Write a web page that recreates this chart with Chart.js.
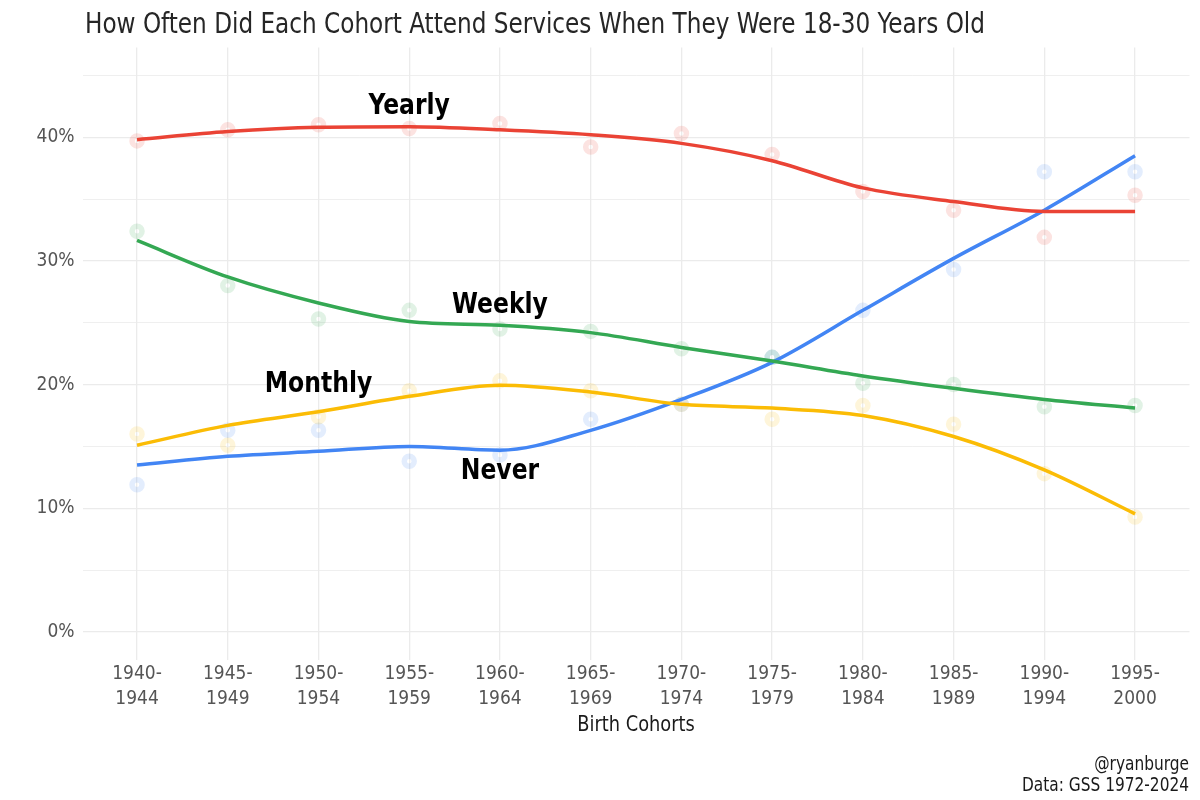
<!DOCTYPE html>
<html>
<head>
<meta charset="utf-8">
<script src="https://cdn.jsdelivr.net/npm/chart.js@4.4.1/dist/chart.umd.min.js"></script>
<style>
	html, body { margin: 0; padding: 0; background: #fff; }
	#wrap { width: 1200px; height: 800px; }
</style>
</head>
<body>
<div id="wrap"><canvas id="chartCohorts"></canvas></div>
<script>
const COHORTS = [
	'1940-1944', '1945-1949', '1950-1954', '1955-1959', '1960-1964', '1965-1969',
	'1970-1974', '1975-1979', '1980-1984', '1985-1989', '1990-1994', '1995-2000',
];
const Y_TICKS = [0, 5, 10, 15, 20, 25, 30, 35, 40, 45];

// raw shares (faded rings)
const YEARLY_PTS = [39.7, 40.6, 41.0, 40.7, 41.1, 39.2, 40.3, 38.6, 35.6, 34.1, 31.9, 35.3];
const WEEKLY_PTS = [32.4, 28.0, 25.3, 26.0, 24.5, 24.3, 22.9, 22.2, 20.1, 20.0, 18.2, 18.3];
const MONTHLY_PTS = [16.0, 15.1, 17.4, 19.5, 20.3, 19.5, 18.4, 17.2, 18.3, 16.8, 12.8, 9.3];
const NEVER_PTS = [11.9, 16.3, 16.3, 13.8, 14.3, 17.2, 18.4, 22.2, 26.0, 29.3, 37.2, 37.2];

// smoothed trend at each cohort
const YEARLY_FIT = [39.8, 40.45, 40.8, 40.85, 40.6, 40.2, 39.5, 38.1, 35.9, 34.8, 34.0, 34.0];
const WEEKLY_FIT = [31.65, 28.7, 26.6, 25.1, 24.8, 24.2, 23.0, 21.9, 20.7, 19.7, 18.8, 18.1];
const MONTHLY_FIT = [15.1, 16.7, 17.8, 19.05, 19.95, 19.4, 18.4, 18.1, 17.5, 15.8, 13.1, 9.55];
const NEVER_FIT = [13.5, 14.2, 14.6, 15.0, 14.7, 16.3, 18.8, 21.8, 26.0, 30.2, 34.1, 38.5];

// series labels: [text, cohort index, share]
const SERIES_LABELS = [
	['Yearly', 3, 42.45],
	['Weekly', 4, 26.4],
	['Monthly', 2, 20.0],
	['Never', 4, 12.95],
];

const TITLE = 'How Often Did Each Cohort Attend Services When They Were 18-30 Years Old';
const X_TITLE = 'Birth Cohorts';
const CAPTION = ['@ryanburge', 'Data: GSS 1972-2024'];

const FONT = '"Liberation Sans Narrow", "DejaVu Sans Condensed", "Roboto", sans-serif';
const COLORS = {
	yearly: [234, 67, 53],
	weekly: [52, 168, 83],
	monthly: [251, 188, 5],
	never: [66, 133, 244],
};

const COHORT_LINES = COHORTS.map(c => {
	const [a, b] = c.split('-');
	return [a + '-', b];
});

function rgba(c, a) {
	return 'rgba(' + c[0] + ', ' + c[1] + ', ' + c[2] + ', ' + a + ')';
}

function toXY(values) {
	return values.map((v, i) => ({ x: i, y: v }));
}

function fitDataset(values, color) {
	return {
		data: toXY(values),
		borderColor: rgba(color, 1),
		borderWidth: 3.5,
		pointRadius: 0,
		cubicInterpolationMode: 'monotone',
		fill: false,
		order: 1,
	};
}

function pointDataset(values, color) {
	return {
		data: toXY(values),
		showLine: false,
		pointRadius: 5,
		pointBorderWidth: 5.5,
		pointBorderColor: rgba(color, 0.15),
		pointBackgroundColor: 'rgba(0, 0, 0, 0)',
		order: 2,
	};
}

// draw text squeezed horizontally by sx around (x, y)
function squeezedText(ctx, text, x, y, sx) {
	ctx.save();
	ctx.translate(x, y);
	ctx.scale(sx, 1);
	ctx.fillText(text, 0, 0);
	ctx.restore();
}

const textPlugin = {
	id: 'textPlugin',
	afterDraw(chart) {
		const ctx = chart.ctx;
		const area = chart.chartArea;
		const xs = chart.scales.x;
		const ys = chart.scales.y;
		ctx.save();

		// title, squeezed to the reference width
		ctx.fillStyle = '#262626';
		ctx.font = '29px ' + FONT;
		ctx.textAlign = 'left';
		ctx.textBaseline = 'alphabetic';
		const w = ctx.measureText(TITLE).width;
		squeezedText(ctx, TITLE, 85, 33, 900 / w);

		// x axis title
		ctx.fillStyle = '#1a1a1a';
		ctx.font = '22px ' + FONT;
		ctx.textAlign = 'center';
		ctx.textBaseline = 'middle';
		squeezedText(ctx, X_TITLE, (area.left + area.right) / 2, 725, 0.9);

		// caption
		ctx.font = '19px ' + FONT;
		ctx.textAlign = 'right';
		squeezedText(ctx, CAPTION[0], 1189, 765, 0.9);
		squeezedText(ctx, CAPTION[1], 1189, 786, 0.9);

		// series labels
		ctx.font = 'bold 29px ' + FONT;
		ctx.textAlign = 'center';
		ctx.fillStyle = '#000';
		SERIES_LABELS.forEach(([text, i, v]) => {
			squeezedText(ctx, text, xs.getPixelForValue(i), ys.getPixelForValue(v), 0.9);
		});
		ctx.restore();
	},
};

const CHART_COHORTS = document.querySelector('#chartCohorts');

new Chart(CHART_COHORTS, {
	type: 'line',
	data: {
		datasets: [
			pointDataset(YEARLY_PTS, COLORS.yearly),
			pointDataset(WEEKLY_PTS, COLORS.weekly),
			pointDataset(MONTHLY_PTS, COLORS.monthly),
			pointDataset(NEVER_PTS, COLORS.never),
			fitDataset(YEARLY_FIT, COLORS.yearly),
			fitDataset(WEEKLY_FIT, COLORS.weekly),
			fitDataset(MONTHLY_FIT, COLORS.monthly),
			fitDataset(NEVER_FIT, COLORS.never),
		],
	},
	options: {
		responsive: true,
		maintainAspectRatio: false,
		animation: false,
		layout: {
			padding: { left: 0, right: 10.5, top: 47.5, bottom: 0 },
		},
		scales: {
			x: {
				type: 'linear',
				min: -0.6,
				max: COHORTS.length - 1 + 0.6,
				afterBuildTicks: scale => {
					scale.ticks = COHORTS.map((c, i) => ({ value: i }));
				},
				afterFit: scale => {
					scale.height = 140.2;
				},
				ticks: {
					autoSkip: false,
					maxRotation: 0,
					padding: 2,
					color: '#555',
					font: { family: FONT, size: 19, lineHeight: 1.3 },
					callback: value => COHORT_LINES[value],
				},
				grid: {
					color: '#ebebeb',
					lineWidth: 1.3,
					drawTicks: false,
				},
				border: { display: false },
			},
			y: {
				type: 'linear',
				min: -2.25,
				max: 47.25,
				afterBuildTicks: scale => {
					scale.ticks = Y_TICKS.map(v => ({ value: v }));
				},
				afterFit: scale => {
					scale.width = 82.6;
				},
				ticks: {
					padding: 8,
					color: '#555',
					font: { family: FONT, size: 19 },
					callback: value => (value % 10 === 0 ? value + '%' : ''),
				},
				grid: {
					color: '#ebebeb',
					lineWidth: ctx => (ctx.tick && ctx.tick.value % 10 === 0 ? 1.3 : 0.8),
					drawTicks: false,
				},
				border: { display: false },
			},
		},
		plugins: {
			legend: { display: false },
			tooltip: { enabled: false },
		},
	},
	plugins: [textPlugin],
});
</script>
</body>
</html>
